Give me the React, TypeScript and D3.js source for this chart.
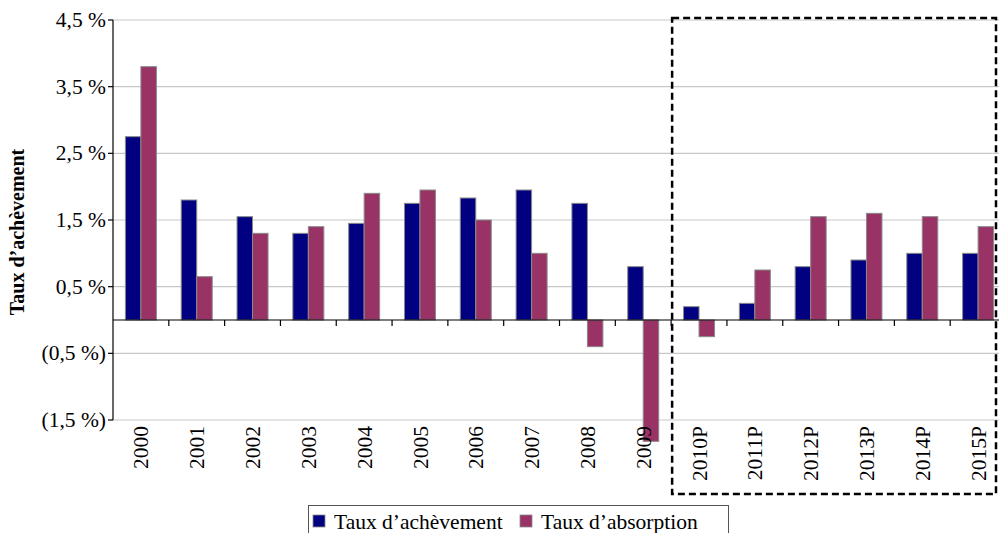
import { useEffect, useRef } from 'react';
import * as d3 from 'd3';

const years = ['2000', '2001', '2002', '2003', '2004', '2005', '2006', '2007', '2008', '2009',
  '2010P', '2011P', '2012P', '2013P', '2014P', '2015P'];
const achevement = [2.75, 1.8, 1.55, 1.3, 1.45, 1.75, 1.83, 1.95, 1.75, 0.8, 0.2, 0.25, 0.8, 0.9, 1.0, 1.0];
const absorption = [3.8, 0.65, 1.3, 1.4, 1.9, 1.95, 1.5, 1.0, -0.4, -1.82, -0.25, 0.75, 1.55, 1.6, 1.55, 1.4];
const yTicks = [4.5, 3.5, 2.5, 1.5, 0.5, -0.5, -1.5];
const seriesNames = ['Taux d\u2019achèvement', 'Taux d\u2019absorption'];
const seriesColors = ['#000080', '#993366'];

const fmt = (v: number) => {
  const s = Math.abs(v).toFixed(1).replace('.', ',') + ' %';
  return v < 0 ? `(${s})` : s;
};

export default function App() {
  const ref = useRef<SVGSVGElement>(null);

  useEffect(() => {
    if (!ref.current) return;
    const svg = d3.select(ref.current);
    svg.selectAll('*').remove();

    const left = 113;
    const right = 1006;
    const y = d3.scaleLinear().domain([-1.5, 4.5]).range([420, 20]);
    const x = d3.scaleBand().domain(years).range([left, right]);
    const bw = 15.5;
    const font = '"Liberation Serif", "Times New Roman", serif';
    const fs = 21.5;

    // gridlines
    svg.append('g').selectAll('line').data(yTicks).join('line')
      .attr('x1', left).attr('x2', 999)
      .attr('y1', d => y(d)).attr('y2', d => y(d))
      .attr('stroke', '#c8c8c8').attr('stroke-width', 1.2);

    // y tick marks + labels
    svg.append('g').selectAll('line').data(yTicks).join('line')
      .attr('x1', left - 5).attr('x2', left)
      .attr('y1', d => y(d)).attr('y2', d => y(d))
      .attr('stroke', '#000').attr('stroke-width', 1.2);
    svg.append('g').selectAll('text').data(yTicks).join('text')
      .attr('x', left - 7).attr('y', d => y(d)).attr('dy', '0.33em')
      .attr('text-anchor', 'end')
      .attr('font-family', font).attr('font-size', fs)
      .text(d => fmt(d));

    // bars
    const series = [achevement, absorption];
    series.forEach((vals, si) => {
      svg.append('g').selectAll('rect').data(vals).join('rect')
        .attr('x', (_, i) => (x(years[i]) as number) + x.bandwidth() / 2 - bw + si * bw)
        .attr('y', d => y(Math.max(0, d)))
        .attr('width', bw)
        .attr('height', d => Math.abs(y(d) - y(0)))
        .attr('fill', seriesColors[si])
        .attr('stroke', '#8a8a8a').attr('stroke-width', 1);
    });

    // y axis line
    svg.append('line')
      .attr('x1', left).attr('x2', left).attr('y1', 20).attr('y2', 420)
      .attr('stroke', '#000').attr('stroke-width', 1.2);

    // zero axis + ticks
    svg.append('line')
      .attr('x1', left).attr('x2', 999).attr('y1', y(0)).attr('y2', y(0))
      .attr('stroke', '#000').attr('stroke-width', 1.2);
    svg.append('g').selectAll('line').data(years.slice(1)).join('line')
      .attr('x1', d => x(d) as number).attr('x2', d => x(d) as number)
      .attr('y1', y(0)).attr('y2', y(0) + 6)
      .attr('stroke', '#000').attr('stroke-width', 1.2);

    // x labels
    svg.append('g').selectAll('text').data(years).join('text')
      .attr('transform', d => `translate(${(x(d) as number) + x.bandwidth() / 2},426) rotate(-90)`)
      .attr('dy', '0.35em')
      .attr('text-anchor', 'end')
      .attr('font-family', font).attr('font-size', fs)
      .text(d => d);

    // forecast box
    svg.append('rect')
      .attr('x', (x('2010P') as number) + 1).attr('y', 18)
      .attr('width', 996 - (x('2010P') as number) - 1).attr('height', 476)
      .attr('fill', 'none').attr('stroke', '#000')
      .attr('stroke-width', 2.5).attr('stroke-dasharray', '7,4');

    // y title
    svg.append('text')
      .attr('transform', 'translate(17,232) rotate(-90)')
      .attr('dy', '0.35em')
      .attr('text-anchor', 'middle')
      .attr('font-family', font).attr('font-size', 20).attr('font-weight', 'bold')
      .text('Taux d\u2019achèvement');

    // legend
    const lg = svg.append('g');
    lg.append('rect')
      .attr('x', 308.5).attr('y', 505.5).attr('width', 420).attr('height', 40)
      .attr('fill', '#fff').attr('stroke', '#555').attr('stroke-width', 1);
    const lx = [313, 520];
    seriesNames.forEach((name, i) => {
      lg.append('rect')
        .attr('x', lx[i]).attr('y', 515).attr('width', 12).attr('height', 12)
        .attr('fill', seriesColors[i]).attr('stroke', '#8a8a8a').attr('stroke-width', 0.8);
      lg.append('text')
        .attr('x', lx[i] + 21).attr('y', 521).attr('dy', '0.35em')
        .attr('font-family', font).attr('font-size', fs)
        .text(name);
    });
  }, []);

  return (
    <div style={{ position: 'fixed', left: 0, top: 0, background: '#fff' }}>
      <svg ref={ref} width={999} height={533} />
    </div>
  );
}
